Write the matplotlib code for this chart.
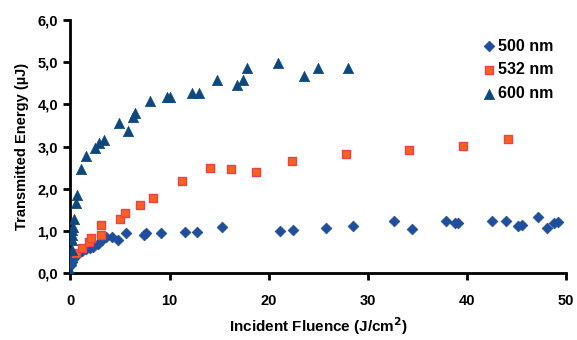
import matplotlib
matplotlib.use("Agg")
import matplotlib.pyplot as plt
from matplotlib.ticker import FuncFormatter

plt.rcParams['font.family'] = ['Liberation Sans', 'DejaVu Sans']

x500 = [0.05, 0.15, 0.3, 0.5, 0.8, 1.2, 1.6, 2.0, 2.3, 2.8, 3.2, 3.6, 4.15, 4.8, 5.65, 7.4, 7.6, 9.1,
        11.6, 12.8, 15.3, 21.1, 22.5, 25.8, 28.5, 32.6, 34.5, 37.9, 38.8, 39.1, 42.5, 43.9, 45.2, 45.6,
        47.2, 48.1, 48.8, 49.2]
y500 = [0.2, 0.28, 0.33, 0.4, 0.45, 0.52, 0.57, 0.6, 0.63, 0.7, 0.78, 0.87, 0.86, 0.78, 0.95, 0.91, 0.95, 0.95,
        0.97, 0.99, 1.09, 1.01, 1.03, 1.07, 1.13, 1.23, 1.05, 1.25, 1.19, 1.2, 1.23, 1.23, 1.13, 1.15,
        1.33, 1.07, 1.19, 1.21]

x532 = [0.6, 1.15, 1.9, 2.1, 3.1, 3.1, 5.0, 5.5, 7.0, 8.35, 11.3, 14.1, 16.25, 18.75, 22.4, 27.8, 34.2, 39.6, 44.1]
y532 = [0.48, 0.61, 0.74, 0.83, 0.91, 1.15, 1.28, 1.42, 1.61, 1.78, 2.19, 2.5, 2.47, 2.39, 2.65, 2.83, 2.92, 3.02, 3.18]

x600 = [0.1, 0.12, 0.15, 0.18, 0.2, 0.25, 0.35, 0.55, 0.7, 1.1, 1.6, 2.5, 2.9, 3.4, 4.9, 5.8, 6.3, 6.5,
        8.0, 9.7, 10.0, 12.3, 13.0, 14.8, 16.85, 17.4, 17.8, 20.9, 23.6, 25.0, 28.0]
y600 = [0.0, 0.56, 0.79, 0.9, 1.03, 1.1, 1.29, 1.67, 1.86, 2.47, 2.79, 2.97, 3.09, 3.16, 3.57, 3.37, 3.7, 3.79,
        4.09, 4.18, 4.18, 4.28, 4.28, 4.58, 4.46, 4.58, 4.86, 4.98, 4.67, 4.87, 4.87]

labels = ['500 nm', '532 nm', '600 nm']

fig = plt.figure(figsize=(5.77, 3.40), dpi=100)
ax = fig.add_axes([0.122, 0.196, 0.859, 0.745])

ax.scatter(x500, y500, marker='D', s=30, color='#1f4e9c', edgecolor='#1f4e9c', linewidth=0.5, label=labels[0], zorder=3)
ax.scatter(x532, y532, marker='s', s=40, color='#f5641f', edgecolor='#f0404a', linewidth=1.0, label=labels[1], zorder=3)
ax.scatter(x600, y600, marker='^', s=55, color='#0d4880', edgecolor='#0d4880', linewidth=0.5, label=labels[2], zorder=3)

ax.set_xlim(0, 50)
ax.set_ylim(0, 6)
ax.set_xticks([0, 10, 20, 30, 40, 50])
ax.set_yticks([0, 1, 2, 3, 4, 5, 6])
ax.yaxis.set_major_formatter(FuncFormatter(lambda v, p: f"{v:.1f}".replace('.', ',')))

for s in ['top', 'right']:
    ax.spines[s].set_visible(False)
for s in ['left', 'bottom']:
    ax.spines[s].set_linewidth(2)
ax.tick_params(direction='out', length=5, width=2, labelsize=10.5, pad=4)
for lab in ax.get_xticklabels() + ax.get_yticklabels():
    lab.set_fontweight('bold')
ax.tick_params(axis='x', pad=10)

ax.set_xlabel('Incident Fluence (J/cm$^\\mathbf{2}$)', fontsize=11, fontweight='bold', labelpad=5)
ax.set_ylabel('Transmitted Energy (µJ)', fontsize=10.5, fontweight='bold', labelpad=6)

leg = ax.legend(loc='upper right', bbox_to_anchor=(0.995, 0.965), frameon=False, handletextpad=0.1,
                handlelength=1.0, labelspacing=0.55, prop={'size': 11.5, 'weight': 'bold'}, borderaxespad=0.2)

fig.savefig('out.png', dpi=100)
